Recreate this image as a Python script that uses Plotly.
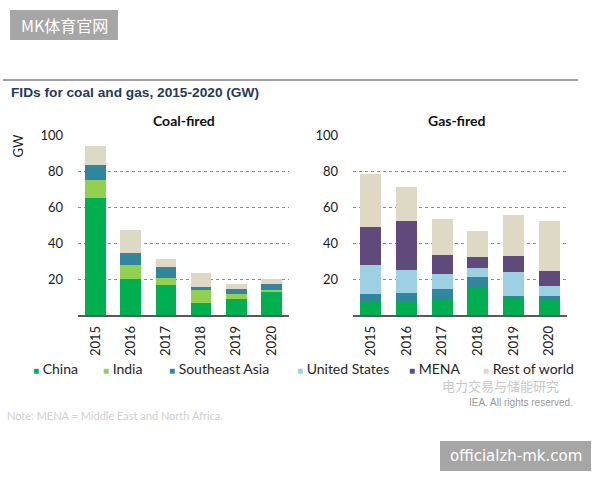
import plotly.graph_objects as go

years = ["2015", "2016", "2017", "2018", "2019", "2020"]
regions = ["China", "India", "Southeast Asia", "United States", "MENA", "Rest of world"]
colors = ["#00B050", "#92D050", "#31859C", "#9CD0E2", "#604A7B", "#DDD9C4"]

coal_china = [65.0, 20.0, 16.7, 6.5, 8.7, 13.0]
coal_india = [10.3, 7.8, 3.7, 7.3, 3.0, 0.9]
coal_sea = [8.5, 7.0, 6.2, 2.0, 2.6, 3.2]
coal_us = [0, 0, 0, 0, 0, 0]
coal_mena = [0, 0, 0, 0, 0, 0]
coal_row = [10.6, 12.5, 4.6, 7.6, 2.8, 2.8]

gas_china = [8.0, 7.4, 8.2, 14.9, 9.3, 9.1]
gas_india = [0, 0, 0, 0, 0, 0]
gas_sea = [3.9, 5.1, 6.3, 6.1, 1.3, 1.5]
gas_us = [15.8, 12.4, 8.2, 5.4, 13.6, 5.4]
gas_mena = [21.2, 27.7, 10.6, 6.1, 8.7, 8.7]
gas_row = [29.9, 18.8, 20.2, 14.3, 22.7, 27.7]

y_ticks = [20, 40, 60, 80, 100]

coal = [coal_china, coal_india, coal_sea, coal_us, coal_mena, coal_row]
gas = [gas_china, gas_india, gas_sea, gas_us, gas_mena, gas_row]

W, H = 600, 480
def px(x):
    return x / W
def py(y):
    return 1 - y / H

fig = go.Figure()
for name, col, vals in zip(regions, colors, coal):
    fig.add_trace(go.Bar(x=years, y=vals, name=name, marker=dict(color=col, line=dict(width=0)),
                         xaxis="x", yaxis="y", showlegend=False))
for name, col, vals in zip(regions, colors, gas):
    fig.add_trace(go.Bar(x=years, y=vals, name=name, marker=dict(color=col, line=dict(width=0)),
                         xaxis="x2", yaxis="y2", showlegend=False))

# legend entries (one legend per entry for exact placement)
leg_x = [33, 103, 169, 297, 409, 483]
legend_layouts = {}
for i, (name, col) in enumerate(zip(regions, colors)):
    lname = "legend" if i == 0 else f"legend{i+1}"
    fig.add_trace(go.Scatter(
        x=[None], y=[None], mode="markers",
        marker=dict(color="rgba(0,0,0,0)", size=1),
        name=f'<span style="font-size:10px;color:{col}">■</span> {name}',
        legend=lname, showlegend=True, xaxis="x", yaxis="y"))
    legend_layouts[lname] = dict(
        x=px(leg_x[i] - 40), xanchor="left", y=py(369), yanchor="middle",
        orientation="h", bgcolor="rgba(0,0,0,0)", borderwidth=0,
        font=dict(family="Lato", size=14, color="#262626"))

tick_font = dict(family="Lato", size=13, color="#1a1a1a")
xcommon = dict(type="category", showline=True, linecolor="#595959", linewidth=1.5,
               showgrid=False, zeroline=False, tickangle=-90, tickfont=tick_font,
               ticks="", ticklabelstandoff=4, fixedrange=True)
ycommon = dict(range=[0, 100], tickvals=y_ticks, showgrid=True, gridcolor="#8c8c8c",
               griddash="dot", gridwidth=1.2, zeroline=False, showline=False,
               tickfont=tick_font, ticks="", ticklabelstandoff=14, fixedrange=True)

fig.update_layout(
    width=W, height=H,
    margin=dict(l=0, r=0, t=0, b=0, autoexpand=False),
    paper_bgcolor="white", plot_bgcolor="white",
    barmode="stack", bargap=0.41,
    xaxis=dict(domain=[px(78), px(289)], anchor="y", **xcommon),
    yaxis=dict(domain=[py(315), py(135.7)], anchor="x", **ycommon),
    xaxis2=dict(domain=[px(353), px(567)], anchor="y2", **xcommon),
    yaxis2=dict(domain=[py(315), py(135.7)], anchor="x2", **ycommon),
    **legend_layouts,
)

annotations = [
    dict(text="MK体育官网", x=px(64), y=py(25), font=dict(family="Noto Sans CJK SC", size=16, color="white")),
    dict(text="<b>FIDs for coal and gas, 2015-2020 (GW)</b>", x=px(9), y=py(92), xanchor="left",
         font=dict(family="Liberation Sans", size=13.7, color="#263a5a")),
    dict(text="<b>Coal-fired</b>", x=px(183.5), y=py(120), font=dict(family="Lato", size=14, color="#111")),
    dict(text="<b>Gas-fired</b>", x=px(457), y=py(120), font=dict(family="Lato", size=14, color="#111")),
    dict(text="GW", x=px(17.5), y=py(146), textangle=-90, font=dict(family="Lato", size=13, color="#1a1a1a")),
    dict(text="电力交易与储能研究", x=px(440), y=py(385), xanchor="left",
         font=dict(family="Noto Sans CJK SC", size=13, color="#c8c8c8")),
    dict(text="IEA. All rights reserved.", x=px(575), y=py(402), xanchor="right",
         font=dict(family="Liberation Sans", size=10, color="#9a9a9a")),
    dict(text="Note: MENA = Middle East and North Africa.", x=px(5), y=py(415), xanchor="left",
         font=dict(family="Lato", size=11, color="#d0d0d0")),
    dict(text="officialzh-mk.com", x=px(515.5), y=py(456), font=dict(family="DejaVu Sans", size=15, color="white")),
]
for a in annotations:
    a.setdefault("xref", "paper"); a.setdefault("yref", "paper")
    a.setdefault("xanchor", "center"); a.setdefault("yanchor", "middle")
    a["showarrow"] = False
fig.update_layout(annotations=annotations)

fig.update_layout(shapes=[
    dict(type="rect", xref="paper", yref="paper", x0=px(10), x1=px(118), y0=py(40), y1=py(10),
         fillcolor="#a6a6a6", line=dict(width=0), layer="below"),
    dict(type="line", xref="paper", yref="paper", x0=px(3), x1=px(578), y0=py(80), y1=py(80),
         line=dict(color="#a0a0a0", width=2), layer="below"),
    dict(type="rect", xref="paper", yref="paper", x0=px(440), x1=px(591), y0=py(471), y1=py(441),
         fillcolor="#a6a6a6", line=dict(width=0), layer="below"),
])

fig.write_html("out.html")
